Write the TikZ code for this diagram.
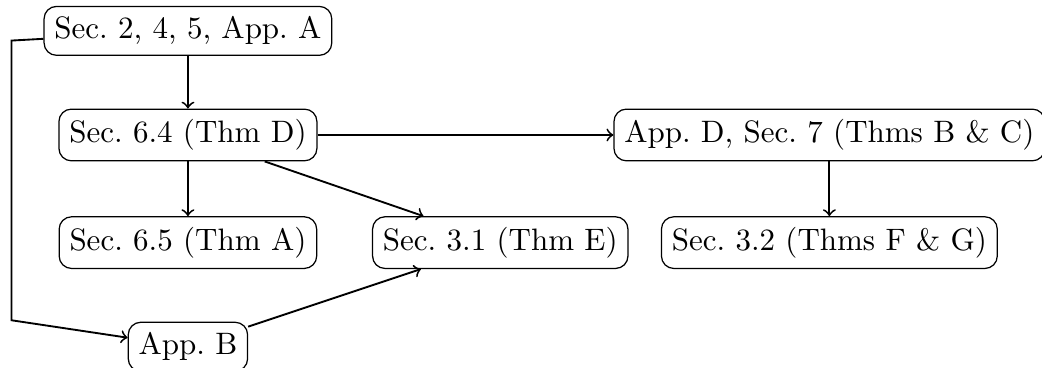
\documentclass[tikz,border=0pt]{standalone}
\usepackage{tikz}
\usetikzlibrary{arrows,positioning}
\frenchspacing

\begin{document}
\begin{tikzpicture}[box/.style={draw, rounded corners}, arr/.style={->, semithick}]
    \useasboundingbox (-2.13,1.53) rectangle (9.68,-2.64);

    % nodes
    \node[box] (secA) at (0,1.18) {Sec. 2, 4, 5, App. A};
    \node[box] (thmD) at (0,0) {Sec. 6.4 (Thm D)};
    \node[box] (thmBC) at (7.27,0) {App. D, Sec. 7 (Thms B \& C)};
    \node[box] (thmA) at (0,-1.22) {Sec. 6.5 (Thm A)};
    \node[box] (thmE) at (3.54,-1.22) {Sec. 3.1 (Thm E)};
    \node[box] (thmFG) at (7.27,-1.22) {Sec. 3.2 (Thms F \& G)};
    \node[box] (appB) at (0,-2.40) {App. B};

    % detour on the left
    \coordinate (left1) at (-2.0,1.07);
    \coordinate (left2) at (-2.0,-2.10);

    % arrows
    \draw[arr] (secA) -- (thmD);
    \draw[arr] (thmD) -- (thmBC);
    \draw[arr] (thmD) -- (thmA);
    \draw[arr] (thmD) -- (thmE);
    \draw[arr] (thmBC) -- (thmFG);
    \draw[arr] (appB) -- (thmE);
    \draw[arr] (secA) -- (left1) -- (left2) -- (appB);
\end{tikzpicture}
\end{document}
